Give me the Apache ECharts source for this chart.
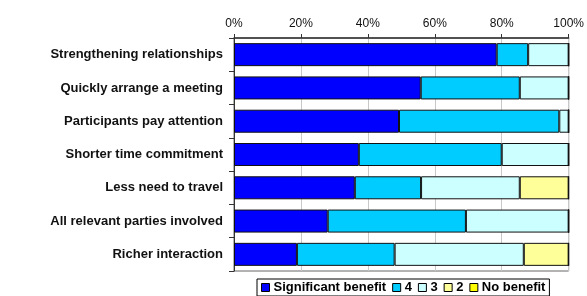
<!DOCTYPE html>
<html>
<head>
<meta charset="utf-8">
<script src="https://cdn.jsdelivr.net/npm/echarts@6/dist/echarts.min.js"></script>
<style>
  html, body { margin: 0; padding: 0; background: #fff; }
  #chart { width: 587px; height: 296px; }
</style>
</head>
<body>
<div id="chart"></div>
<script>
// categories, top to bottom
var categories = [
  "Strengthening relationships",
  "Quickly arrange a meeting",
  "Participants pay attention",
  "Shorter time commitment",
  "Less need to travel",
  "All relevant parties involved",
  "Richer interaction"
];
var seriesNames = ["Significant benefit", "4", "3", "2", "No benefit"];
var colorPalette = ["#0000FF", "#00CCFF", "#CCFFFF", "#FFFF99", "#FFFF00"];

// percent values
var significant = [78.5, 55.8, 49.3, 37.3, 36.1, 28.0, 18.8];
var four        = [9.4, 29.6, 47.9, 42.7, 19.8, 41.3, 29.2];
var three       = [12.1, 14.6, 2.8, 20.0, 29.5, 30.7, 38.6];
var two         = [0, 0, 0, 0, 14.6, 0, 13.4];
var noBenefit   = [0, 0, 0, 0, 0, 0, 0];

var xTicks = [0, 20, 40, 60, 80, 100];

var values = [significant, four, three, two, noBenefit];

var chartDom = document.getElementById("chart");
var myChart = echarts.init(chartDom);

var series = seriesNames.map(function (name, i) {
  return {
    name: name,
    type: "bar",
    stack: "total",
    barWidth: 23,
    itemStyle: { color: colorPalette[i], borderColor: "#111", borderWidth: 1 },
    emphasis: { disabled: true },
    data: values[i]
  };
});

var option = {
  animation: false,
  textStyle: { fontFamily: "Liberation Sans, Arial, sans-serif" },
  grid: {
    left: 234, right: 15, top: 38, bottom: 25, containLabel: false,
    show: true, borderColor: "#666", borderWidth: 1
  },
  xAxis: {
    type: "value",
    position: "top",
    min: xTicks[0],
    max: xTicks[xTicks.length - 1],
    interval: 20,
    axisLine: { show: true, lineStyle: { color: "#333", width: 1.5 } },
    axisTick: { show: true, length: 4, lineStyle: { color: "#333" } },
    axisLabel: { formatter: "{value}%", color: "#111", fontSize: 12, margin: 8 },
    splitLine: { show: true, lineStyle: { color: "#c8c8c8", width: 1 } }
  },
  yAxis: {
    type: "category",
    inverse: true,
    data: categories,
    axisLine: { show: true, lineStyle: { color: "#333", width: 1 } },
    axisTick: { show: true, length: 5, alignWithLabel: false, lineStyle: { color: "#333" } },
    axisLabel: { color: "#111", fontSize: 13, fontWeight: "bold", margin: 11 },
    splitLine: { show: false }
  },
  legend: {
    bottom: 0,
    left: 257,
    itemWidth: 8,
    itemHeight: 8,
    itemGap: 6,
    icon: "rect",
    padding: [2, 4, 2, 4],
    borderColor: "#000",
    borderWidth: 1,
    itemStyle: { borderColor: "#000", borderWidth: 1 },
    textStyle: { fontSize: 13, fontWeight: "bold", color: "#000", padding: [0, 0, 0, -1] },
    data: seriesNames
  },
  series: series
};

option && myChart.setOption(option);
</script>
</body>
</html>
